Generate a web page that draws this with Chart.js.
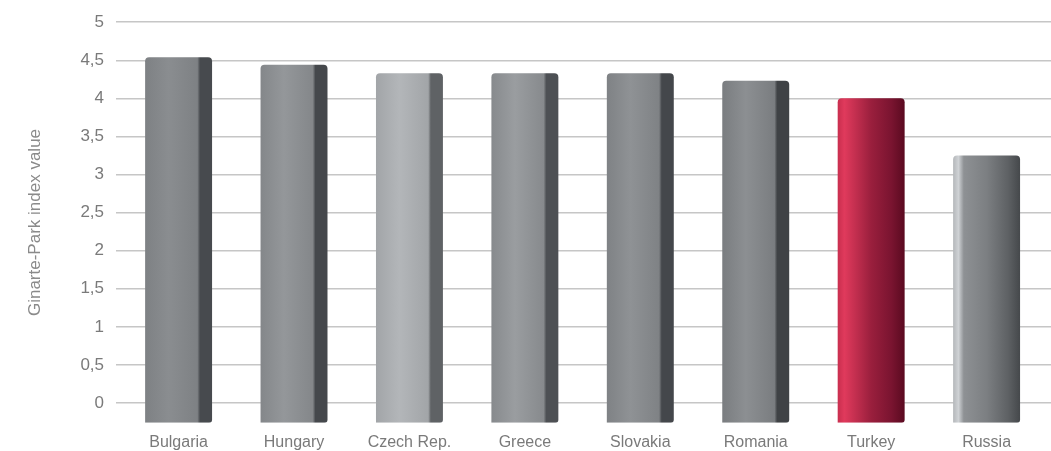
<!DOCTYPE html>
<html>
<head>
<meta charset="utf-8">
<script src="https://cdn.jsdelivr.net/npm/chart.js@4/dist/chart.umd.min.js"></script>
<style>
  html, body { margin: 0; padding: 0; background: #ffffff; overflow: hidden; }
  #wrap { width: 1051px; height: 454px; }
</style>
</head>
<body>
<div id="wrap"><canvas id="chart"></canvas></div>
<script>
const paises = ["Bulgaria", "Hungary", "Czech Rep.", "Greece", "Slovakia", "Romania", "Turkey", "Russia"];
const valores = [4.54, 4.44, 4.33, 4.33, 4.33, 4.23, 4.0, 3.25];
const ticksY = [0, 0.5, 1, 1.5, 2, 2.5, 3, 3.5, 4, 4.5, 5];
const yMin = -0.26;
const yMax = 5;

// colores de cada barra: claro, medio, oscuro (cara lateral)
const tonos = [
  ["#8a8d90", "#7e8184", "#474a4e"],
  ["#94979a", "#84878a", "#45484c"],
  ["#b3b6b9", "#a2a5a8", "#5f6265"],
  ["#9a9da0", "#878a8d", "#4d5054"],
  ["#8f9295", "#7f8285", "#44474b"],
  ["#8c8f92", "#7a7d80", "#3f4245"],
  ["#e03a5c", "#9a1f3d", "#5a0a20"],
  ["#a7aaad", "#75787b", "#45484b"]
];

const anchoBarra = 0.58;

function degradado(context) {
  const chart = context.chart;
  const i = context.dataIndex;
  const escalaX = chart.scales.x;
  if (!escalaX || i === undefined) return "#888888";
  const t = tonos[i];
  const paso = escalaX.getPixelForValue(1) - escalaX.getPixelForValue(0);
  const ancho = paso * anchoBarra;
  const centro = escalaX.getPixelForValue(i);
  const x0 = centro - ancho / 2;
  const x1 = centro + ancho / 2;
  if (!isFinite(x0) || !isFinite(x1) || ancho <= 0) return t[1];
  const g = chart.ctx.createLinearGradient(x0, 0, x1, 0);
  if (i === 7) {
    g.addColorStop(0, "#b4b7ba");
    g.addColorStop(0.08, "#cfd2d5");
    g.addColorStop(0.16, "#8e9194");
    g.addColorStop(0.5, "#7c7f82");
    g.addColorStop(0.82, "#5e6164");
    g.addColorStop(1, t[2]);
  } else if (i === 6) {
    g.addColorStop(0, "#c82e4e");
    g.addColorStop(0.1, t[0]);
    g.addColorStop(0.5, t[1]);
    g.addColorStop(0.8, "#7a1430");
    g.addColorStop(1, t[2]);
  } else {
    g.addColorStop(0, t[1]);
    g.addColorStop(0.35, t[0]);
    g.addColorStop(0.78, t[1]);
    g.addColorStop(0.82, t[2]);
    g.addColorStop(1, t[2]);
  }
  return g;
}

new Chart(document.getElementById("chart"), {
  type: "bar",
  data: {
    labels: paises,
    datasets: [
      {
        data: valores,
        base: yMin,
        backgroundColor: degradado,
        borderWidth: 0,
        borderRadius: { topLeft: 4, topRight: 4, bottomLeft: 0, bottomRight: 3 },
        borderSkipped: false,
        barPercentage: anchoBarra,
        categoryPercentage: 1
      }
    ]
  },
  options: {
    responsive: true,
    maintainAspectRatio: false,
    animation: false,
    layout: {
      padding: { top: 11, right: 0, bottom: 0, left: 25 }
    },
    plugins: {
      legend: { display: false },
      tooltip: { enabled: false }
    },
    scales: {
      x: {
        grid: { display: false },
        border: { display: false },
        afterBuildTicks(scale) {
          // categorías un poco desplazadas respecto al área de la rejilla
          scale._startValue = -0.542;
          scale._valueRange = 8.1;
        },
        ticks: {
          color: "#7a7a7a",
          padding: 2,
          font: { family: "Liberation Sans", size: 16 }
        }
      },
      y: {
        min: yMin,
        max: yMax,
        afterBuildTicks(scale) {
          scale.ticks = ticksY.map((v) => ({ value: v }));
        },
        ticks: {
          color: "#7a7a7a",
          padding: 12,
          font: { family: "Liberation Sans", size: 17 },
          callback: (v) => String(v).replace(".", ",")
        },
        grid: {
          color: "#c6c6c6",
          lineWidth: 1.5,
          drawTicks: false
        },
        border: { display: false },
        title: {
          display: true,
          text: "Ginarte-Park index value",
          color: "#8a8a8a",
          padding: { top: 0, bottom: 23 },
          font: { family: "Liberation Sans", size: 17 }
        }
      }
    }
  }
});
</script>
</body>
</html>
